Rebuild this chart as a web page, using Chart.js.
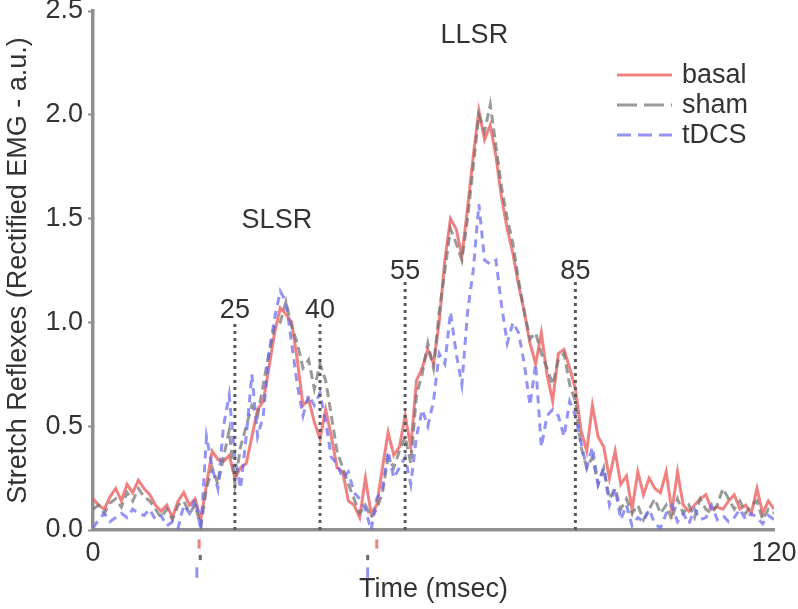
<!DOCTYPE html>
<html>
<head>
<meta charset="utf-8">
<script src="https://cdn.jsdelivr.net/npm/chart.js@4/dist/chart.umd.min.js"></script>
<style>
  html, body { margin: 0; padding: 0; background: #fff; }
  #wrap { width: 798px; height: 609px; }
</style>
</head>
<body>
<div id="wrap"><canvas id="reflexChart" width="798" height="609"></canvas></div>
<script>
// time axis, msec
const times = [
  0, 1, 2, 3, 4, 5, 6, 7, 8, 9, 10, 11, 12, 13, 14, 15, 16, 17, 18, 19,
  20, 21, 22, 23, 24, 25, 26, 27, 28, 29, 30, 31, 32, 33, 34, 35, 36, 37, 38, 39,
  40, 41, 42, 43, 44, 45, 46, 47, 48, 49, 50, 51, 52, 53, 54, 55, 56, 57, 58, 59,
  60, 61, 62, 63, 64, 65, 66, 67, 68, 69, 70, 71, 72, 73, 74, 75, 76, 77, 78, 79,
  80, 81, 82, 83, 84, 85, 86, 87, 88, 89, 90, 91, 92, 93, 94, 95, 96, 97, 98, 99,
  100, 101, 102, 103, 104, 105, 106, 107, 108, 109, 110, 111, 112, 113, 114, 115, 116, 117, 118, 119,
  120
];

// rectified EMG, one value per msec
const basal = [
  0.15, 0.12, 0.10, 0.16, 0.20, 0.14, 0.22, 0.18, 0.24, 0.20, 0.17, 0.12, 0.09, 0.12, 0.06, 0.14, 0.18, 0.12, 0.15, 0.05,
  0.22, 0.38, 0.34, 0.33, 0.36, 0.25, 0.30, 0.32, 0.45, 0.58, 0.62, 0.78, 0.95, 1.07, 1.04, 1.00, 0.82, 0.60, 0.63, 0.52,
  0.44, 0.58, 0.45, 0.30, 0.28, 0.14, 0.12, 0.06, 0.25, 0.08, 0.12, 0.30, 0.47, 0.36, 0.40, 0.55, 0.40, 0.72, 0.78, 0.87,
  0.80, 1.00, 1.30, 1.50, 1.45, 1.32, 1.55, 1.80, 2.02, 1.88, 1.95, 1.80, 1.60, 1.45, 1.33, 1.18, 1.05, 0.90, 0.80, 0.95,
  0.75, 0.62, 0.85, 0.87, 0.78, 0.68, 0.48, 0.38, 0.60, 0.45, 0.40, 0.25, 0.38, 0.22, 0.26, 0.10, 0.28, 0.17, 0.25, 0.20,
  0.18, 0.28, 0.09, 0.28, 0.12, 0.09, 0.12, 0.15, 0.17, 0.10, 0.11, 0.10, 0.14, 0.17, 0.10, 0.12, 0.08, 0.20, 0.08, 0.14,
  0.10
];
const sham = [
  0.10, 0.12, 0.08, 0.13, 0.15, 0.11, 0.18, 0.14, 0.20, 0.16, 0.14, 0.10, 0.06, 0.10, 0.05, 0.12, 0.14, 0.08, 0.12, 0.02,
  0.20, 0.30, 0.22, 0.35, 0.48, 0.22, 0.40, 0.50, 0.60, 0.55, 0.70, 0.85, 0.98, 1.00, 1.10, 0.98, 0.90, 0.78, 0.82, 0.68,
  0.80, 0.72, 0.55, 0.38, 0.30, 0.22, 0.15, 0.08, 0.12, 0.06, 0.10, 0.18, 0.35, 0.30, 0.38, 0.45, 0.32, 0.65, 0.75, 0.90,
  0.78, 1.05, 1.25, 1.45, 1.38, 1.30, 1.50, 1.75, 2.00, 1.92, 2.05, 1.85, 1.65, 1.50, 1.38, 1.20, 1.05, 0.92, 0.95, 0.85,
  0.78, 0.70, 0.82, 0.85, 0.70, 0.62, 0.40, 0.30, 0.35, 0.22, 0.30, 0.15, 0.20, 0.10, 0.15, 0.08, 0.12, 0.05, 0.10, 0.15,
  0.08, 0.12, 0.05, 0.15, 0.08, 0.12, 0.06, 0.15, 0.10, 0.08, 0.12, 0.20, 0.15, 0.10, 0.14, 0.08, 0.12, 0.14, 0.05, 0.10,
  0.08
];
const tdcs = [
  0.01, 0.05, 0.08, 0.04, 0.06, 0.08, 0.06, 0.10, 0.08, 0.07, 0.10, 0.05, 0.07, 0.02, 0.04, 0.01, 0.12, 0.08, 0.15, 0.00,
  0.45, 0.30, 0.20, 0.50, 0.65, 0.35, 0.20, 0.45, 0.75, 0.45, 0.55, 0.85, 1.02, 1.15, 1.10, 0.90, 0.70, 0.55, 0.65, 0.60,
  0.66, 0.52, 0.35, 0.32, 0.25, 0.28, 0.18, 0.15, 0.10, 0.00, 0.15, 0.20, 0.38, 0.25, 0.30, 0.35, 0.22, 0.45, 0.58, 0.50,
  0.62, 0.85, 0.80, 1.05, 0.85, 0.70, 1.05, 1.25, 1.57, 1.30, 1.28, 1.30, 1.08, 0.90, 1.00, 0.95, 0.80, 0.60, 0.80, 0.40,
  0.55, 0.58, 0.55, 0.45, 0.62, 0.55, 0.42, 0.30, 0.40, 0.22, 0.30, 0.12, 0.20, 0.05, 0.12, 0.02, 0.06, 0.04, 0.10, 0.03,
  0.01, 0.08, 0.12, 0.04, 0.08, 0.03, 0.10, 0.05, 0.06, 0.12, 0.05, 0.07, 0.04, 0.06, 0.10, 0.05, 0.08, 0.06, 0.03, 0.07,
  0.05
];

// dotted latency markers and their heights
const cutTimes = [25, 40, 55, 85];
const cutTops = [1.01, 1.01, 1.2, 1.2];
const cutLabels = ["25", "40", "55", "85"];

// response window labels
const windowLabels = ["SLSR", "LLSR"];
const windowX = [32.4, 67.2];
const windowY = [1.49, 2.38];

// stimulus ticks below the axis, one time per series
const stimBasal = [18.7, 50.0];
const stimSham = [18.9, 48.4];
const stimTdcs = [18.3, 48.4];

const yTicks = [0, 0.5, 1.0, 1.5, 2.0, 2.5];
const xTicks = [0, 120];

const FONT = "'Liberation Sans', Arial, sans-serif";
const TEXT = "#333";
const AXIS_GREY = "#8f8f8f";
const RED = "rgba(236,98,98,0.8)";
const GREY = "rgba(115,115,115,0.72)";
const BLUE = "rgba(105,105,240,0.72)";

function pts(vals) {
  return times.map((t, i) => ({ x: t, y: vals[i] }));
}

const cutSets = cutTimes.map((t, i) => ({
  label: "cut" + cutLabels[i],
  data: [{ x: t, y: 0 }, { x: t, y: cutTops[i] }],
  borderColor: "#5a5a5a",
  borderWidth: 3,
  borderDash: [3, 4],
  pointRadius: 0,
  order: 0,
}));

const extras = {
  id: "extras",
  afterDraw(chart) {
    const { ctx, scales: { x, y }, chartArea } = chart;
    ctx.save();
    ctx.font = "27px " + FONT;
    ctx.fillStyle = TEXT;
    ctx.textAlign = "center";

    // numbers above dotted lines
    ctx.textBaseline = "alphabetic";
    cutTimes.forEach((t, i) => {
      ctx.fillText(cutLabels[i], x.getPixelForValue(t), y.getPixelForValue(cutTops[i]) - 2);
    });

    ctx.textBaseline = "middle";
    windowLabels.forEach((lbl, i) => {
      ctx.fillText(lbl, x.getPixelForValue(windowX[i]), y.getPixelForValue(windowY[i]));
    });

    // small stimulus ticks under the axis
    const stim = [[stimBasal, RED, -0.045, -0.09], [stimSham, "rgba(70,70,70,0.8)", -0.12, -0.145], [stimTdcs, BLUE, -0.18, -0.23]];
    stim.forEach(([ts, col, y0, y1]) => {
      ctx.strokeStyle = col;
      ctx.lineWidth = 3;
      ts.forEach(t => {
        const px = x.getPixelForValue(t);
        ctx.beginPath();
        ctx.moveTo(px, y.getPixelForValue(y0));
        ctx.lineTo(px, y.getPixelForValue(y1));
        ctx.stroke();
      });
    });

    // legend, top right
    const items = [
      { label: "basal", color: RED, dash: [] },
      { label: "sham", color: GREY, dash: [20, 7] },
      { label: "tDCS", color: BLUE, dash: [14, 7] },
    ];
    const lx = chartArea.right - 157;
    ctx.textAlign = "left";
    items.forEach((it, i) => {
      const ly = chartArea.top + 64 + i * 30;
      ctx.strokeStyle = it.color;
      ctx.lineWidth = 3;
      ctx.setLineDash(it.dash);
      ctx.beginPath();
      ctx.moveTo(lx, ly);
      ctx.lineTo(lx + 55, ly);
      ctx.stroke();
      ctx.setLineDash([]);
      ctx.fillStyle = TEXT;
      ctx.fillText(it.label, lx + 65, ly + 1);
    });
    ctx.restore();
  }
};

new Chart(document.getElementById("reflexChart"), {
  type: "line",
  data: {
    datasets: [
      { label: "basal", data: pts(basal), borderColor: RED, borderWidth: 3, pointRadius: 0, tension: 0, order: 3 },
      { label: "sham", data: pts(sham), borderColor: GREY, borderWidth: 3, borderDash: [9, 5], pointRadius: 0, tension: 0, order: 2 },
      { label: "tDCS", data: pts(tdcs), borderColor: BLUE, borderWidth: 3, borderDash: [8, 6], pointRadius: 0, tension: 0, order: 1 },
      ...cutSets,
    ]
  },
  options: {
    responsive: false,
    devicePixelRatio: 1,
    animation: false,
    layout: { padding: { top: 11, right: 24, left: 0, bottom: 0 } },
    plugins: {
      legend: { display: false },
      tooltip: { enabled: false }
    },
    scales: {
      x: {
        type: "linear",
        min: 0,
        max: 120,
        afterBuildTicks: s => { s.ticks = xTicks.map(v => ({ value: v })); },
        afterFit: s => { s.height = 79; s.paddingLeft = 0; s.paddingRight = 0; },
        ticks: { color: TEXT, font: { family: FONT, size: 27 }, padding: 7, maxRotation: 0, callback: v => String(v) },
        grid: { drawOnChartArea: false, drawTicks: false },
        border: { color: AXIS_GREY, width: 3.5 },
        title: { display: true, text: "Time (msec)", color: TEXT, font: { family: FONT, size: 27 }, padding: { top: 0, bottom: 3 } }
      },
      y: {
        min: 0,
        max: 2.5,
        afterBuildTicks: s => { s.ticks = yTicks.map(v => ({ value: v })); },
        afterFit: s => { s.width = 93; s.paddingTop = 0; s.paddingBottom = 0; },
        ticks: { color: TEXT, font: { family: FONT, size: 27 }, padding: 5, callback: v => v.toFixed(1) },
        grid: { drawOnChartArea: false, drawTicks: true, tickLength: 5, tickColor: AXIS_GREY, tickWidth: 2 },
        border: { color: AXIS_GREY, width: 3.5 },
        title: { display: true, text: "Stretch Reflexes (Rectified EMG - a.u.)", color: TEXT, font: { family: FONT, size: 27 }, padding: { top: 2, bottom: 0 } }
      }
    }
  },
  plugins: [extras]
});
</script>
</body>
</html>
